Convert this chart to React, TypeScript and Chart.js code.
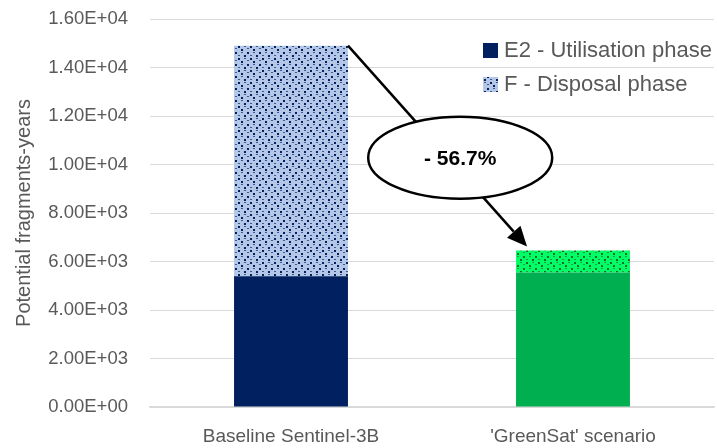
import React, { useEffect, useRef } from "react";
import { Chart, registerables } from "chart.js";

Chart.register(...registerables);

const categories = ["Baseline Sentinel-3B", "'GreenSat' scenario"];
const utilisation = [5390, 5550];
const disposal = [9510, 900];
const seriesNames = ["E2 - Utilisation phase", "F - Disposal phase"];
const yTicksMax = 16000;
const yStep = 2000;

function makePattern(bg: string, dot: string, mid: string): CanvasPattern | string {
  const c = document.createElement("canvas");
  c.width = 12;
  c.height = 12;
  const g = c.getContext("2d");
  if (!g) return bg;
  g.fillStyle = bg;
  g.fillRect(0, 0, 12, 12);
  const dark = [[1, 1], [7, 4], [4, 7], [10, 10]];
  const light = [[7, 0], [1, 4], [10, 7], [4, 10]];
  g.fillStyle = dot;
  dark.forEach(([x, y]) => g.fillRect(x, y, 2, 2));
  g.fillStyle = mid;
  light.forEach(([x, y]) => g.fillRect(x, y, 2, 1));
  const p = g.createPattern(c, "repeat");
  return p || bg;
}

export default function App() {
  const ref = useRef<HTMLCanvasElement | null>(null);

  useEffect(() => {
    document.body.style.margin = "0";
    const canvas = ref.current;
    if (!canvas) return;
    const bluePat = makePattern("#B4C7E7", "#002060", "#3A5A94");
    const greenPat = makePattern("#00FF66", "#1E6B2E", "#2E9A44");
    const font = "Arial, 'Liberation Sans', sans-serif";

    const overlay = {
      id: "overlay",
      afterDraw(chart: any) {
        const ctx = chart.ctx;
        const ca = chart.chartArea;
        const y = chart.scales.y;
        const m0 = chart.getDatasetMeta(1).data[0];
        const m1 = chart.getDatasetMeta(1).data[1];
        const x0 = m0.x + m0.width / 2;
        const y0 = m0.y;
        const x1 = m1.x - m1.width / 2 + 11;
        const y1 = m1.y - 4;
        ctx.save();
        const ang = Math.atan2(y1 - y0, x1 - x0);
        const headLen = 20;
        const bx = x1 - headLen * Math.cos(ang);
        const by = y1 - headLen * Math.sin(ang);
        ctx.strokeStyle = "#000";
        ctx.lineWidth = 2.5;
        ctx.beginPath();
        ctx.moveTo(x0, y0);
        ctx.lineTo(bx, by);
        ctx.stroke();
        ctx.fillStyle = "#000";
        ctx.beginPath();
        ctx.moveTo(x1, y1);
        ctx.lineTo(bx + 9 * Math.sin(ang), by - 9 * Math.cos(ang));
        ctx.lineTo(bx - 9 * Math.sin(ang), by + 9 * Math.cos(ang));
        ctx.closePath();
        ctx.fill();
        const cx = (m0.x + m1.x) / 2 + 0.1 * (m1.x - m0.x);
        const cy = y.getPixelForValue(10280);
        ctx.beginPath();
        ctx.ellipse(cx, cy, 92, 41, 0, 0, Math.PI * 2);
        ctx.fillStyle = "#fff";
        ctx.fill();
        ctx.lineWidth = 2.5;
        ctx.stroke();
        const t0 = utilisation[0] + disposal[0];
        const t1 = utilisation[1] + disposal[1];
        const pct = ((t1 - t0) / t0) * 100;
        ctx.fillStyle = "#000";
        ctx.font = "bold 21px " + font;
        ctx.textAlign = "center";
        ctx.textBaseline = "middle";
        ctx.fillText("- " + Math.abs(pct).toFixed(1) + "%", cx, cy + 1);
        const lx = ca.right - 231;
        const fills = ["#002060", bluePat];
        seriesNames.forEach((n, i) => {
          const ly = ca.top + 24 + i * 34;
          ctx.fillStyle = fills[i];
          ctx.fillRect(lx, ly, 15, 15);
          ctx.fillStyle = "#595959";
          ctx.font = "22px " + font;
          ctx.textAlign = "left";
          ctx.textBaseline = "middle";
          ctx.fillText(n, lx + 21, ly + 8);
        });
        ctx.restore();
      },
    };

    const chart = new Chart(canvas, {
      type: "bar",
      data: {
        labels: categories,
        datasets: [
          {
            label: seriesNames[0],
            data: utilisation,
            backgroundColor: ["#002060", "#00B050"],
            barPercentage: 1,
            categoryPercentage: 0.404,
          },
          {
            label: seriesNames[1],
            data: disposal,
            backgroundColor: [bluePat as any, greenPat as any],
            barPercentage: 1,
            categoryPercentage: 0.404,
          },
        ],
      },
      options: {
        animation: false,
        responsive: false,
        devicePixelRatio: 1,
        layout: { padding: { top: 19, right: 3, left: 0, bottom: 0 } },
        plugins: { legend: { display: false }, tooltip: { enabled: false } },
        scales: {
          x: {
            stacked: true,
            grid: { display: false, drawTicks: false },
            border: { color: "#D9D9D9", width: 1.5 },
            ticks: {
              color: "#595959",
              font: { family: font, size: 19 },
              padding: 18,
            },
            afterFit(s: any) {
              s.height = 41;
              s.paddingLeft = 0;
              s.paddingRight = 0;
            },
          },
          y: {
            stacked: true,
            min: 0,
            max: yTicksMax,
            ticks: {
              stepSize: yStep,
              color: "#595959",
              font: { family: font, size: 18.5 },
              padding: 22,
              callback: (v: any) => {
                const n = Number(v);
                if (n === 0) return "0.00E+00";
                const e = Math.floor(Math.log10(n));
                const mant = (n / Math.pow(10, e)).toFixed(2);
                return mant + "E+" + String(e).padStart(2, "0");
              },
            },
            grid: { color: "#D9D9D9", lineWidth: 1, drawTicks: false },
            border: { display: false },
            title: {
              display: true,
              text: "Potential fragments-years",
              color: "#595959",
              font: { family: font, size: 20 },
              padding: { top: 12, bottom: 0 },
            },
            afterFit(s: any) {
              s.width = 150;
              s.paddingTop = 0;
              s.paddingBottom = 0;
            },
          },
        },
      },
      plugins: [overlay],
    });
    return () => chart.destroy();
  }, []);

  return <canvas ref={ref} width={717} height={448} style={{ display: "block" }} />;
}
